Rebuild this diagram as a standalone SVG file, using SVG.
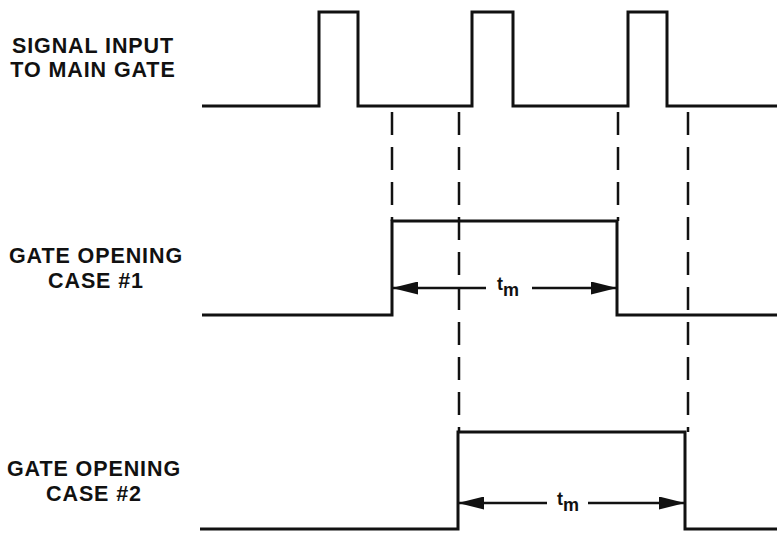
<svg xmlns="http://www.w3.org/2000/svg" width="777" height="533" viewBox="0 0 777 533">
<style>
.lbl{font-family:"Liberation Sans",Arial,sans-serif;font-weight:bold;font-size:21.5px;fill:#111;text-anchor:middle;letter-spacing:0.9px}
.wave{fill:none;stroke:#111;stroke-width:3;stroke-linejoin:miter}
.dash{fill:none;stroke:#111;stroke-width:2.5;stroke-dasharray:23 12}
.dim{fill:none;stroke:#111;stroke-width:2.5}
.tm{font-family:"Liberation Sans",Arial,sans-serif;font-weight:bold;font-size:18px;fill:#111}
</style>
<defs>
<marker id="ah" viewBox="0 0 26 13" refX="26" refY="6.5" markerWidth="26" markerHeight="13" markerUnits="userSpaceOnUse" orient="auto-start-reverse">
<path d="M0 0 L26 6.5 L0 13 Z" fill="#111"/>
</marker>
</defs>
<rect width="777" height="533" fill="#fff"/>
<g id="signal">
<text class="lbl" x="93" y="53">SIGNAL INPUT</text>
<text class="lbl" x="93" y="77">TO MAIN GATE</text>
<path class="wave" d="M202 106 H319 V12 H358 V106 H472 V12 H513 V106 H628 V12 H667 V106 H777"/>
</g>
<g id="case1">
<text class="lbl" x="96" y="263">GATE OPENING</text>
<text class="lbl" x="96" y="288">CASE #1</text>
<path class="wave" d="M202 315 H392 V221 H617 V315 H777"/>
</g>
<g id="case2">
<text class="lbl" x="94" y="476">GATE OPENING</text>
<text class="lbl" x="94" y="501">CASE #2</text>
<path class="wave" d="M200 529 H458 V432 H685 V529 H777"/>
</g>
<g id="connectors">
<line class="dash" x1="392" y1="112" x2="392" y2="221"/>
<line class="dash" x1="459" y1="112" x2="459" y2="432"/>
<line class="dash" x1="618" y1="112" x2="618" y2="221"/>
<line class="dash" x1="688" y1="112" x2="688" y2="432"/>
<line class="dim" x1="486" y1="288" x2="392" y2="288" marker-end="url(#ah)"/>
<line class="dim" x1="532" y1="288" x2="617" y2="288" marker-end="url(#ah)"/>
<line class="dim" x1="547" y1="503" x2="458" y2="503" marker-end="url(#ah)"/>
<line class="dim" x1="588" y1="503" x2="685" y2="503" marker-end="url(#ah)"/>
</g>
<g id="tm1"><text class="tm" x="497" y="290">t<tspan dy="6">m</tspan></text></g>
<g id="tm2"><text class="tm" x="557" y="505">t<tspan dy="6">m</tspan></text></g>
</svg>
